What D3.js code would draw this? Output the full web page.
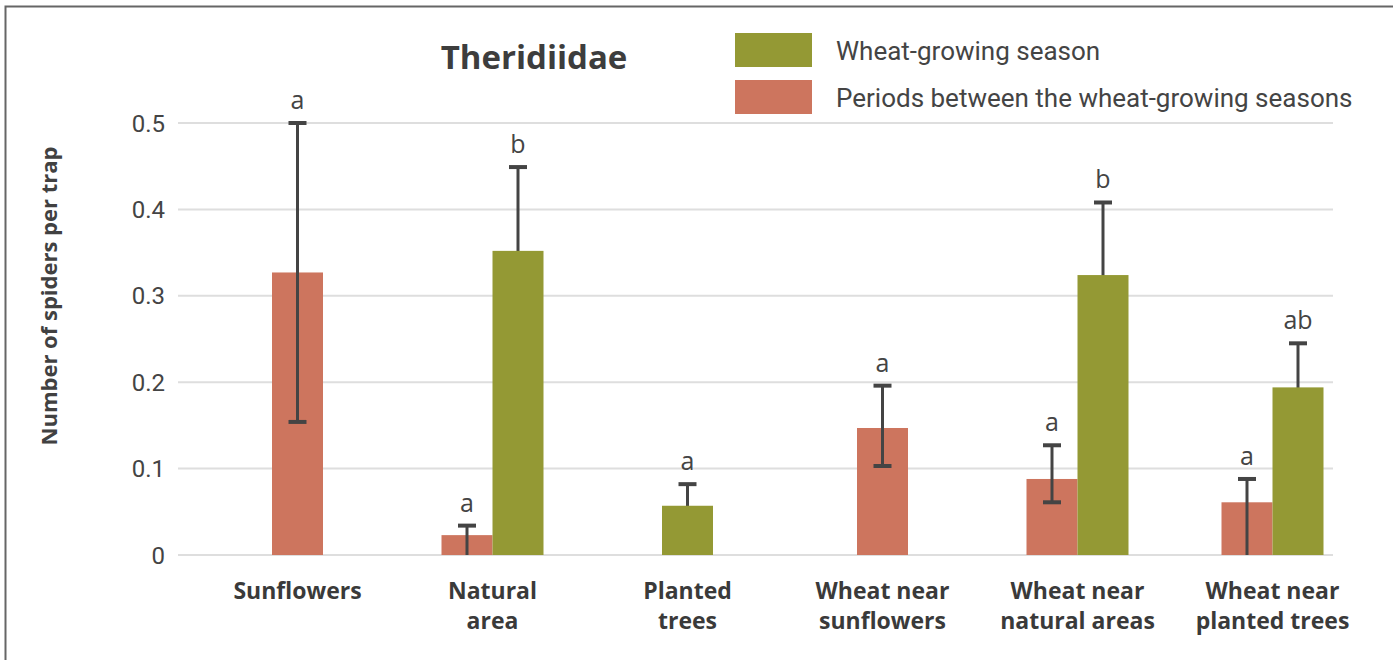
<!DOCTYPE html>
<html>
<head>
<meta charset="utf-8">
<script src="https://cdn.jsdelivr.net/npm/d3@7"></script>
<style>
  html, body { margin: 0; padding: 0; background: #fff; }
  svg { display: block; }
</style>
</head>
<body>
<svg id="chart" width="1393" height="660"></svg>
<script>
// ---------- data ----------
const categories = ["Sunflowers", "Natural area", "Planted trees",
  "Wheat near sunflowers", "Wheat near natural areas", "Wheat near planted trees"];
const categoryLabels = [["Sunflowers"], ["Natural", "area"], ["Planted", "trees"],
  ["Wheat near", "sunflowers"], ["Wheat near", "natural areas"], ["Wheat near", "planted trees"]];

const seriesNames = ["Wheat-growing season", "Periods between the wheat-growing seasons"];

// Periods between the wheat-growing seasons
const betweenValues = [0.327, 0.023, null, 0.147, 0.088, 0.061];
const betweenUpper  = [0.500, 0.034, null, 0.196, 0.127, 0.088];
const betweenLower  = [0.154, 0.000, null, 0.103, 0.061, 0.000];
const betweenLetters = ["a", "a", null, "a", "a", "a"];

// Wheat-growing season
const wheatValues = [null, 0.352, 0.057, null, 0.324, 0.194];
const wheatUpper  = [null, 0.449, 0.082, null, 0.408, 0.245];
const wheatLetters = [null, "b", "a", null, "b", "ab"];

const yTicks = [0, 0.1, 0.2, 0.3, 0.4, 0.5];
const yTickLabels = ["0", "0.1", "0.2", "0.3", "0.4", "0.5"];

// ---------- build ----------
const series = [
  { key: "between", name: seriesNames[1], values: betweenValues, upper: betweenUpper,
    lower: betweenLower, letters: betweenLetters, color: "#CD755E", errFront: true },
  { key: "wheat", name: seriesNames[0], values: wheatValues, upper: wheatUpper,
    lower: wheatValues.map((v, i) => v == null ? null : v - (wheatUpper[i] - v)),
    letters: wheatLetters, color: "#949934", errFront: false }
];

const svg = d3.select("#chart");
const textColor = "#414141";
const plotLeft = 178, plotRight = 1333;
const y = d3.scaleLinear().domain([0, 0.5]).range([555, 123]);
const x0 = d3.scaleBand().domain(categories).range([200, 1370]).padding(0);
const barW = 51;

// frame
svg.append("path").attr("d", "M5.5,660 V6.5 H1393")
  .attr("fill", "none").attr("stroke", "#666").attr("stroke-width", 2);

// gridlines
svg.append("g").selectAll("line").data(yTicks).join("line")
  .attr("x1", plotLeft).attr("x2", plotRight)
  .attr("y1", d => y(d)).attr("y2", d => y(d))
  .attr("stroke", "#dedede").attr("stroke-width", 2);

// y tick labels
svg.append("g").selectAll("text").data(yTicks).join("text")
  .attr("x", 165).attr("y", d => y(d) + 8.5)
  .attr("text-anchor", "end")
  .attr("font-family", "Roboto").attr("font-size", 24).attr("fill", "#444")
  .text((d, i) => yTickLabels[i]);

// y axis title
svg.append("text")
  .attr("transform", "translate(57,296) rotate(-90)")
  .attr("text-anchor", "middle")
  .attr("font-family", "'Open Sans'").attr("font-weight", 700).attr("font-size", 22)
  .attr("fill", textColor)
  .text("Number of spiders per trap");

// compute marks
const marks = [];
categories.forEach((c, i) => {
  const present = series.filter(s => s.values[i] != null);
  const cx = x0(c) + x0.bandwidth() / 2;
  const inner = d3.scaleBand().domain(present.map(s => s.key))
    .range([cx - present.length * barW / 2, cx + present.length * barW / 2]);
  present.forEach(s => {
    marks.push({ s, i, x: inner(s.key), w: inner.bandwidth(), v: s.values[i],
      up: s.upper[i], lo: s.lower[i], letter: s.letters[i] });
  });
});

function drawErr(g, data) {
  const eg = g.selectAll("g").data(data).join("g");
  eg.append("line")
    .attr("x1", d => d.x + d.w / 2).attr("x2", d => d.x + d.w / 2)
    .attr("y1", d => y(Math.max(d.lo, 0))).attr("y2", d => y(d.up))
    .attr("stroke", "#444").attr("stroke-width", 3);
  eg.append("line")
    .attr("x1", d => d.x + d.w / 2 - 9).attr("x2", d => d.x + d.w / 2 + 9)
    .attr("y1", d => y(d.up)).attr("y2", d => y(d.up))
    .attr("stroke", "#444").attr("stroke-width", 4);
  eg.filter(d => d.lo > 0).append("line")
    .attr("x1", d => d.x + d.w / 2 - 9).attr("x2", d => d.x + d.w / 2 + 9)
    .attr("y1", d => y(d.lo)).attr("y2", d => y(d.lo))
    .attr("stroke", "#444").attr("stroke-width", 4);
}

// error bars behind bars
drawErr(svg.append("g"), marks.filter(m => !m.s.errFront));

// bars
svg.append("g").selectAll("rect").data(marks).join("rect")
  .attr("x", d => d.x).attr("width", d => d.w)
  .attr("y", d => y(d.v)).attr("height", d => y(0) - y(d.v))
  .attr("fill", d => d.s.color);

// error bars in front
drawErr(svg.append("g"), marks.filter(m => m.s.errFront));

// significance letters
svg.append("g").selectAll("text").data(marks).join("text")
  .attr("x", d => d.x + d.w / 2).attr("y", d => y(d.up) - 14)
  .attr("text-anchor", "middle")
  .attr("font-family", "'Open Sans'").attr("font-size", 25).attr("fill", "#444")
  .text(d => d.letter);

// category labels
const cl = svg.append("g").selectAll("text").data(categories).join("text")
  .attr("text-anchor", "middle")
  .attr("font-family", "'Open Sans'").attr("font-weight", 700).attr("font-size", 23)
  .attr("fill", "#3a3a3a");
cl.each(function (c, i) {
  const cx = x0(c) + x0.bandwidth() / 2;
  d3.select(this).selectAll("tspan").data(categoryLabels[i]).join("tspan")
    .attr("x", cx).attr("y", (d, j) => 599 + j * 30).text(d => d);
});

// title
svg.append("text").attr("x", 534).attr("y", 69)
  .attr("text-anchor", "middle")
  .attr("font-family", "'Open Sans'").attr("font-weight", 700).attr("font-size", 33)
  .attr("fill", "#3d3d3d").text("Theridiidae");

// legend
const legendOrder = [series[1], series[0]];
const lg = svg.append("g").selectAll("g").data(legendOrder).join("g")
  .attr("transform", (d, i) => `translate(735,${33 + i * 47})`);
lg.append("rect").attr("width", 77).attr("height", 34).attr("fill", d => d.color);
lg.append("text").attr("x", 101).attr("y", 26.5)
  .attr("font-family", "Roboto").attr("font-size", 26).attr("fill", "#444")
  .text(d => d.name);
</script>
</body>
</html>
